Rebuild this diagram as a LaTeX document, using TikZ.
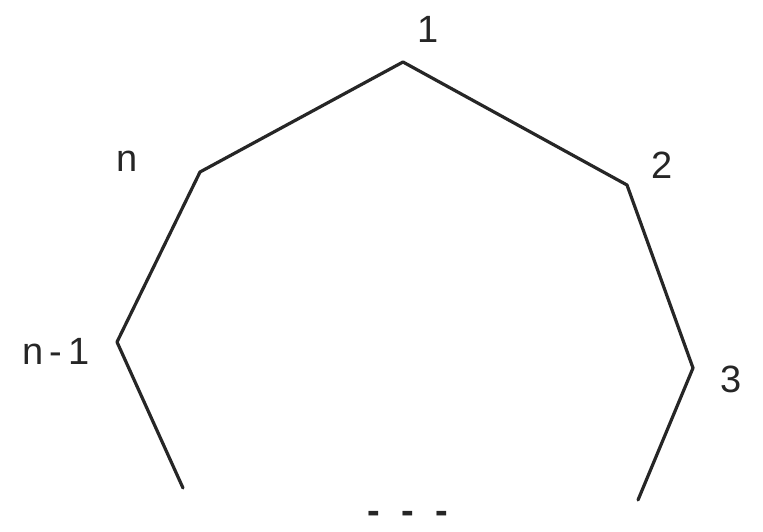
\documentclass[tikz,border=0pt]{standalone}
\usepackage{fontspec}
\setmainfont{Liberation Sans}
\begin{document}
\begin{tikzpicture}[x=1pt,y=1pt,
  edge/.style={line width=3.2pt,line join=round,line cap=round,black!85},
  lbl/.style={font=\fontsize{38}{38}\selectfont,text=black!85,inner sep=0pt}]
\useasboundingbox[fill=white] (0,0) rectangle (763,531);
\coordinate (v1) at (403,469);
\coordinate (vn) at (200,359);
\coordinate (v2) at (627,346);
\coordinate (vn1) at (117,189);
\coordinate (v3) at (693,163);
\coordinate (eL) at (183,43);
\coordinate (eR) at (638,31);
\draw[edge] (eL) -- (vn1) -- (vn) -- (v1) -- (v2) -- (v3) -- (eR);
\node[lbl] (l1) at (428,502) {1};
\node[lbl] (ln) at (127,370) {n};
\node[lbl] (l2) at (662,366) {2};
\node[lbl] (ln1) at (56,180) {n\,-\,1};
\node[lbl] (l3) at (731,152) {3};
\node[lbl,font=\bfseries\fontsize{38}{38}\selectfont] (dots) at (408,14) {-\ \ -\ \ -};
\end{tikzpicture}
\end{document}
